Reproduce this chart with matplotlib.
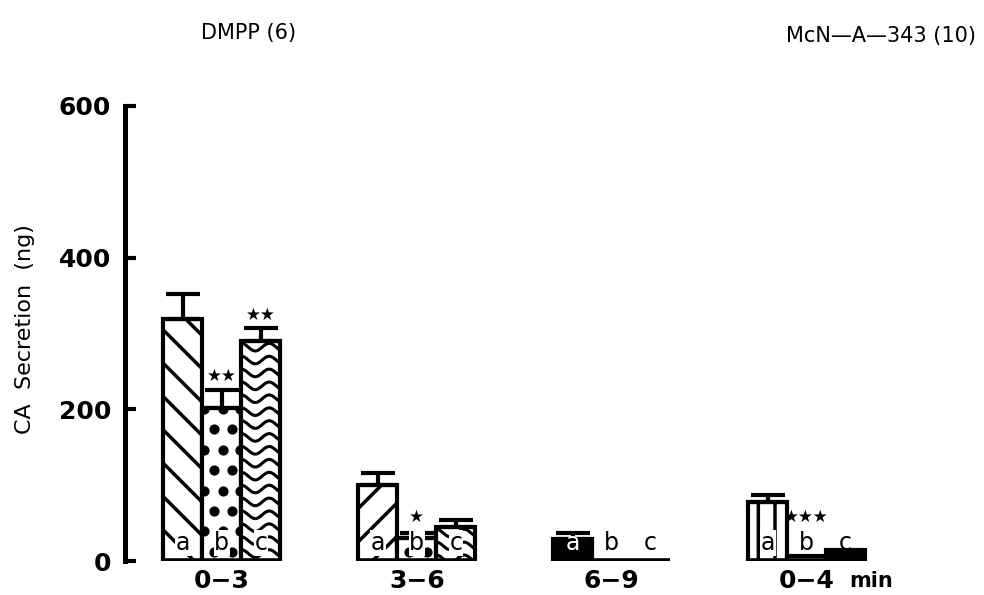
import numpy as np
import matplotlib
matplotlib.use("Agg")
import matplotlib.pyplot as plt

# secretion per collection period (ng), mean and upward SEM
periods = ["0\u22123", "3\u22126", "6\u22129", "0\u22124"]
letters = ["a", "b", "c"]
a_vals = [319, 100, 29, 78]
a_sem = [33, 16, 8, 9]
b_vals = [202, 30, 0, 7]
b_sem = [24, 7, 0, 0]
c_vals = [290, 45, 0, 15]
c_sem = [17, 9, 0, 0]
b_stars = ["\u2605\u2605", "\u2605", "", "\u2605\u2605\u2605"]
c_stars = ["\u2605\u2605", "", "", ""]
yticks = [0, 200, 400, 600]

plt.rcParams["font.family"] = ["DejaVu Sans"]
plt.rcParams["hatch.linewidth"] = 2.5

fig = plt.figure(figsize=(9.84, 5.95), dpi=100)
ax = fig.add_axes([0.127, 0.057, 0.873, 0.765])

width = 0.2
x = np.arange(len(periods))
offsets = [-width, 0, width]
series = [(a_vals, a_sem), (b_vals, b_sem), (c_vals, c_sem)]

# fill style for each (letter, period)
a_style = [dict(hatch="\\"), dict(hatch="/"), dict(color="black"), dict(hatch="|")]
c_black = [False, False, False, True]


def draw_dots(ax, rect):
    x0, w, h = rect.get_x(), rect.get_width(), rect.get_height()
    if h <= 0:
        return
    ys = np.arange(12, h, 27)
    for i, yy in enumerate(ys):
        xs = x0 + w * (np.array([0.3, 0.75]) if i % 2 == 0 else np.array([0.05, 0.52, 0.97]))
        sc = ax.scatter(xs, np.full(len(xs), yy), s=40, color="black", zorder=2)
        sc.set_clip_path(rect)


def draw_waves(ax, rect):
    x0, w, h = rect.get_x(), rect.get_width(), rect.get_height()
    if h <= 0:
        return
    xx = np.linspace(x0, x0 + w, 80)
    for base in np.arange(h - 8, 0, -17):
        ln, = ax.plot(xx, base + 5 * np.cos((xx - x0) / w * 2 * np.pi * 1.4),
                      color="black", lw=2.2, zorder=2)
        ln.set_clip_path(rect)


for k, (vals, sem) in enumerate(series):
    for g in range(len(periods)):
        xpos = x[g] + offsets[k]
        face = "white"
        hatch = None
        if k == 0:
            face = a_style[g].get("color", "white")
            hatch = a_style[g].get("hatch")
        if k == 2 and c_black[g]:
            face = "black"
        rect = ax.bar(xpos, vals[g], width, color=face, edgecolor="black",
                      linewidth=3, hatch=hatch, zorder=1)[0]
        if k == 1:
            draw_dots(ax, rect)
        if k == 2 and not c_black[g]:
            draw_waves(ax, rect)
        if sem[g] > 0:
            ax.errorbar(xpos, vals[g], yerr=[[0], [sem[g]]], fmt="none",
                        ecolor="black", elinewidth=3, capsize=12, capthick=3,
                        zorder=3)
        # letter near the bottom of each bar
        dark = face == "black" and vals[g] > 20
        ax.text(xpos, 8, letters[k], ha="center", va="bottom", fontsize=17,
                color="white" if dark else "black", zorder=4,
                bbox=None if dark or vals[g] < 25 else
                dict(facecolor="white", edgecolor="none", pad=0.5))

# significance stars
for g in range(len(periods)):
    for k, stars in ((1, b_stars), (2, c_stars)):
        if stars[g]:
            vals, sem = series[k]
            top = max(vals[g] + sem[g], 40)
            ax.text(x[g] + offsets[k], top + 6, stars[g], ha="center",
                    va="bottom", fontsize=12, zorder=4)

# thick base under each group
ax.hlines(np.zeros(len(x)), x - 1.5 * width, x + 1.5 * width, color="black",
          linewidth=4, zorder=3)

ax.set_xlim(-0.497, 3.91)
ax.set_ylim(0, 600)
for side in ("top", "right", "bottom"):
    ax.spines[side].set_visible(False)
ax.spines["left"].set_linewidth(3.6)
ax.set_yticks(yticks)
ax.set_yticklabels([str(t) for t in yticks], fontsize=18, fontweight="bold")
ax.tick_params(axis="y", direction="in", length=8, width=3, pad=10)
ax.set_xticks(x)
ax.set_xticklabels(periods, fontsize=18, fontweight="bold")
ax.tick_params(axis="x", length=0, pad=6)
ax.set_ylabel("CA  Secretion  (ng)", fontsize=16)
ax.yaxis.set_label_coords(-0.105, 0.51)
ax.text(3.33, -0.043, "min", transform=ax.get_xaxis_transform(), ha="center",
        va="center", fontsize=15, fontweight="bold", clip_on=False)

fig.text(0.253, 0.945, "DMPP (6)", ha="center", va="center", fontsize=15)
fig.text(0.895, 0.94, "McN\u2014A\u2014343 (10)", ha="center", va="center",
         fontsize=15)

fig.savefig("out.png", dpi=100)
